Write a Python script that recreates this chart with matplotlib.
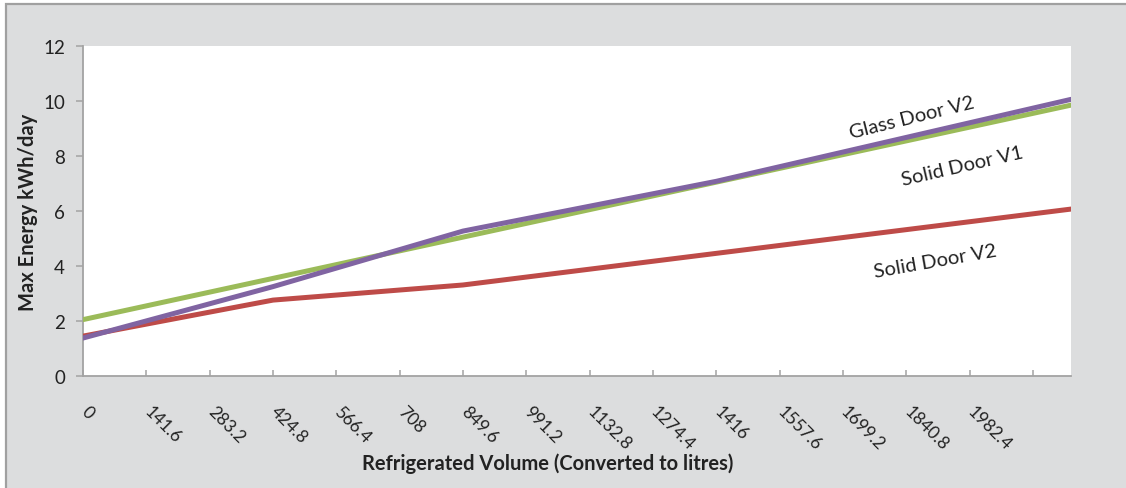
import numpy as np
import matplotlib.pyplot as plt
from matplotlib.patches import Rectangle
from matplotlib.transforms import ScaledTranslation

plt.rcParams['font.family'] = ['Lato', 'DejaVu Sans']

# Category ticks (5 ft3 steps, shown in litres)
tick_labels = ['0', '141.6', '283.2', '424.8', '566.4', '708', '849.6', '991.2',
               '1132.8', '1274.4', '1416', '1557.6', '1699.2', '1840.8', '1982.4']
tick_step = 141.6
x_max = 2209.0  # 78 ft3

# Max energy (kWh/day) read at the breakpoints of each curve
solid_v1_vol = [0, 2209.0]
solid_v1 = [2.05, 9.85]

solid_v2_vol = [0, 424.8, 849.6, 2209.0]
solid_v2 = [1.45, 2.76, 3.31, 6.07]

glass_v2_vol = [0, 424.8, 849.6, 1416, 2209.0]
glass_v2 = [1.38, 3.25, 5.27, 7.08, 10.06]

BG = '#DCDDDE'
AXIS = '#A3A3A3'
TXT = '#222222'

fig = plt.figure(figsize=(11.26, 4.89), dpi=100)
fig.patch.set_facecolor('white')
fig.patches.append(Rectangle((6 / 1126, -0.1), 1.2, (489 - 5) / 489 + 0.1,
                             transform=fig.transFigure, facecolor=BG,
                             edgecolor='#A0A0A0', linewidth=1.6, zorder=-10))

ax = fig.add_axes([83 / 1126, (489 - 377) / 489, (1071 - 83) / 1126, (377 - 47) / 489])
ax.set_facecolor('white')

lw = 3.6
ax.plot(solid_v2_vol, solid_v2, color='#BE4B48', lw=lw, solid_capstyle='round', zorder=3)
ax.plot(solid_v1_vol, solid_v1, color='#9BBB59', lw=lw, solid_capstyle='round', zorder=4)
ax.plot(glass_v2_vol, glass_v2, color='#8064A2', lw=lw, solid_capstyle='round', zorder=5)

ax.set_xlim(0, x_max)
ax.set_ylim(0, 12)
ax.set_yticks(np.arange(0, 13, 2))

xticks = [i * tick_step for i in range(len(tick_labels) + 1)]
ax.set_xticks(xticks)
ax.set_xticklabels(tick_labels + [''], rotation=-45, ha='left', va='top',
                   rotation_mode='default')

for side in ['top', 'right']:
    ax.spines[side].set_visible(False)
for side in ['left', 'bottom']:
    ax.spines[side].set_color(AXIS)
    ax.spines[side].set_linewidth(1.3)

ax.tick_params(axis='y', direction='out', length=5, width=1.1, color=AXIS,
               labelsize=13.5, labelcolor=TXT, pad=8)
ax.tick_params(axis='x', direction='in', length=4.5, width=1.1, color=AXIS,
               labelsize=12.5, labelcolor=TXT, pad=19)

# nudge the slanted labels a little left so they start at their tick
shift = ScaledTranslation(-5 / 100, 0, fig.dpi_scale_trans)
for lbl in ax.get_xticklabels():
    lbl.set_transform(lbl.get_transform() + shift)

ax.set_ylabel('Max Energy kWh/day', fontsize=14.5, fontweight='bold', color=TXT, labelpad=4)
fig.text(548 / 1126, 1 - 464 / 489, 'Refrigerated Volume (Converted to litres)',
         ha='center', va='center', fontsize=14.5, fontweight='bold', color=TXT)

ax.text(1853, 9.42, 'Glass Door V2', rotation=14, ha='center', va='center',
        fontsize=14.5, color=TXT)
ax.text(1967, 7.64, 'Solid Door V1', rotation=13, ha='center', va='center',
        fontsize=14.5, color=TXT)
ax.text(1905, 4.18, 'Solid Door V2', rotation=10, ha='center', va='center',
        fontsize=14.5, color=TXT)

fig.savefig('out.png', dpi=100, facecolor=fig.get_facecolor())
